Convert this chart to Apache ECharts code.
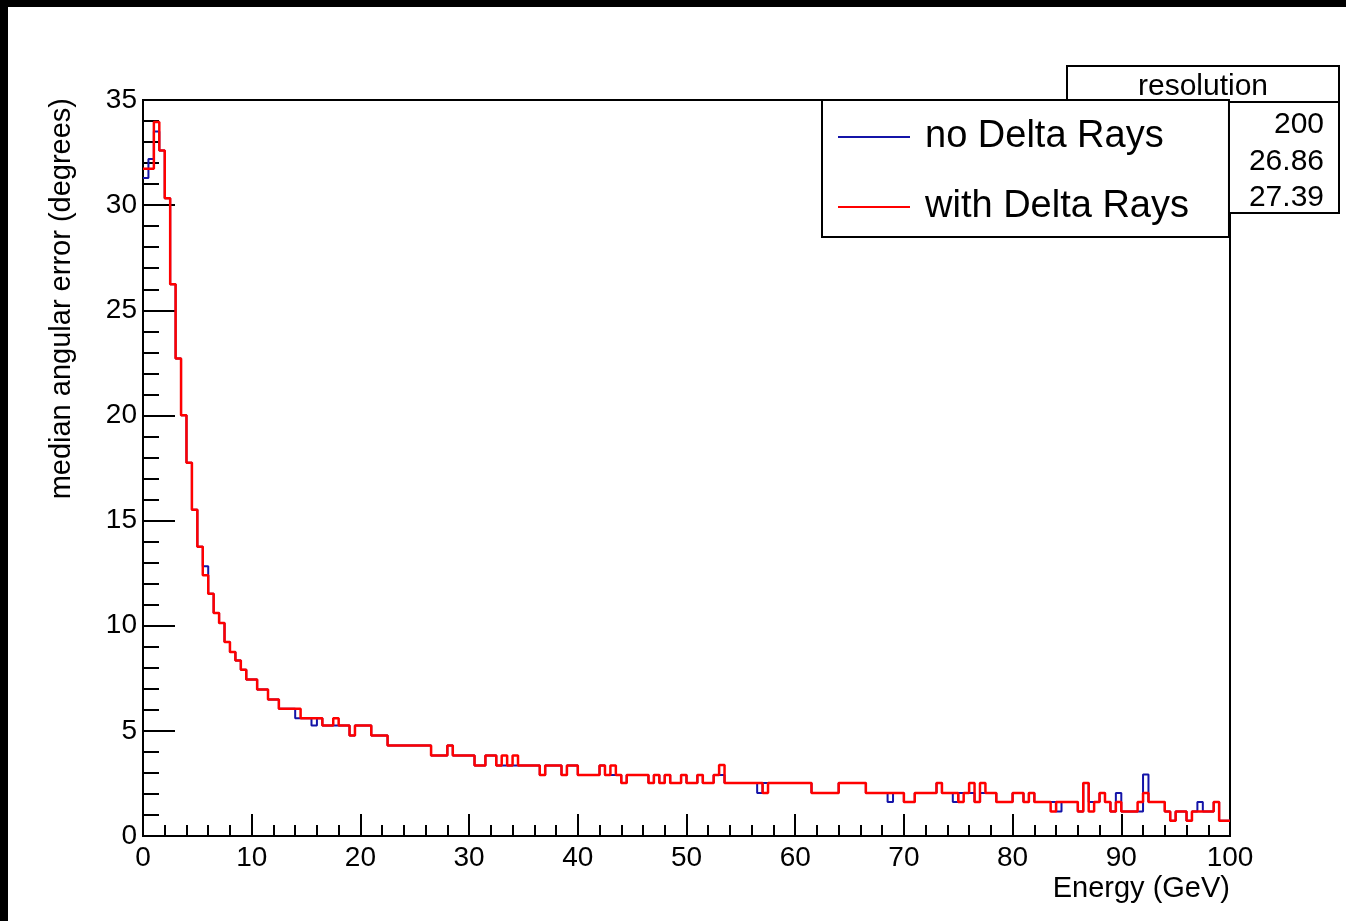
<!DOCTYPE html>
<html>
<head>
<meta charset="utf-8">
<script src="https://cdn.jsdelivr.net/npm/echarts@6/dist/echarts.min.js"></script>
<style>
  html, body { margin: 0; padding: 0; background: #fff; }
  #chart { width: 1346px; height: 921px; }
</style>
</head>
<body>
<div id="chart"></div>
<script>
// Histogram: 200 bins from 0 to 100 GeV
const xMin = 0, xMax = 100, nBins = 200;

// median angular error per bin, "no Delta Rays"
const noDeltaRays = [
  31.29, 32.19, 33.50, 32.60, 30.33, 26.24, 22.71, 20.01, 17.75, 15.52,
  13.75, 12.83, 11.52, 10.60, 10.13, 9.22, 8.75, 8.35, 7.90, 7.44,
  7.44, 6.97, 6.97, 6.49, 6.49, 6.05, 6.05, 6.05, 5.60, 5.60,
  5.60, 5.25, 5.60, 5.25, 5.25, 5.25, 5.25, 5.25, 4.78, 5.25,
  5.25, 5.25, 4.78, 4.78, 4.78, 4.30, 4.30, 4.30, 4.30, 4.30,
  4.30, 4.30, 4.30, 3.83, 3.83, 3.83, 4.30, 3.83, 3.83, 3.83,
  3.83, 3.35, 3.35, 3.83, 3.83, 3.35, 3.35, 3.35, 3.35, 3.35,
  3.35, 3.35, 3.35, 2.90, 3.35, 3.35, 3.35, 2.90, 3.35, 3.35,
  2.90, 2.90, 2.90, 2.90, 3.35, 2.90, 2.90, 2.90, 2.52, 2.90,
  2.90, 2.90, 2.90, 2.52, 2.90, 2.52, 2.90, 2.52, 2.52, 2.90,
  2.52, 2.52, 2.90, 2.52, 2.52, 2.90, 2.90, 2.52, 2.52, 2.52,
  2.52, 2.52, 2.52, 2.05, 2.52, 2.52, 2.52, 2.52, 2.52, 2.52,
  2.52, 2.52, 2.52, 2.05, 2.05, 2.05, 2.05, 2.05, 2.52, 2.52,
  2.52, 2.52, 2.52, 2.05, 2.05, 2.05, 2.05, 1.62, 2.05, 2.05,
  1.62, 1.62, 2.05, 2.05, 2.05, 2.05, 2.52, 2.05, 2.05, 1.62,
  2.05, 2.05, 2.05, 1.62, 2.05, 2.05, 2.05, 1.62, 1.62, 1.62,
  2.05, 2.05, 1.62, 2.05, 1.62, 1.62, 1.62, 1.62, 1.16, 1.62,
  1.62, 1.62, 1.16, 2.52, 1.62, 1.62, 2.05, 1.62, 1.16, 2.05,
  1.16, 1.16, 1.16, 1.16, 2.92, 1.62, 1.62, 1.62, 1.16, 0.73,
  1.16, 1.16, 0.73, 1.16, 1.62, 1.16, 1.16, 1.62, 0.73, 0.73
];

// median angular error per bin, "with Delta Rays"
const withDeltaRays = [
  31.73, 31.73, 33.95, 32.60, 30.33, 26.24, 22.71, 20.01, 17.75, 15.52,
  13.75, 12.40, 11.52, 10.60, 10.13, 9.22, 8.75, 8.35, 7.90, 7.44,
  7.44, 6.97, 6.97, 6.49, 6.49, 6.05, 6.05, 6.05, 6.05, 5.60,
  5.60, 5.60, 5.60, 5.25, 5.25, 5.60, 5.25, 5.25, 4.78, 5.25,
  5.25, 5.25, 4.78, 4.78, 4.78, 4.30, 4.30, 4.30, 4.30, 4.30,
  4.30, 4.30, 4.30, 3.83, 3.83, 3.83, 4.30, 3.83, 3.83, 3.83,
  3.83, 3.35, 3.35, 3.83, 3.83, 3.35, 3.83, 3.35, 3.83, 3.35,
  3.35, 3.35, 3.35, 2.90, 3.35, 3.35, 3.35, 2.90, 3.35, 3.35,
  2.90, 2.90, 2.90, 2.90, 3.35, 2.90, 3.35, 2.90, 2.52, 2.90,
  2.90, 2.90, 2.90, 2.52, 2.90, 2.52, 2.90, 2.52, 2.52, 2.90,
  2.52, 2.52, 2.90, 2.52, 2.52, 2.90, 3.38, 2.52, 2.52, 2.52,
  2.52, 2.52, 2.52, 2.52, 2.05, 2.52, 2.52, 2.52, 2.52, 2.52,
  2.52, 2.52, 2.52, 2.05, 2.05, 2.05, 2.05, 2.05, 2.52, 2.52,
  2.52, 2.52, 2.52, 2.05, 2.05, 2.05, 2.05, 2.05, 2.05, 2.05,
  1.62, 1.62, 2.05, 2.05, 2.05, 2.05, 2.52, 2.05, 2.05, 2.05,
  1.62, 2.05, 2.52, 1.62, 2.52, 2.05, 2.05, 1.62, 1.62, 1.62,
  2.05, 2.05, 1.62, 2.05, 1.62, 1.62, 1.62, 1.16, 1.62, 1.62,
  1.62, 1.62, 1.16, 2.52, 1.16, 1.62, 2.05, 1.62, 1.16, 1.62,
  1.16, 1.16, 1.16, 1.62, 2.05, 1.62, 1.62, 1.62, 1.16, 0.73,
  1.16, 1.16, 0.73, 1.16, 1.16, 1.16, 1.16, 1.62, 0.73, 0.73
];

const seriesNames = ['no Delta Rays', 'with Delta Rays'];
const statTitle = 'resolution';
const statValues = ['200', '26.86', '27.39'];
const xTitle = 'Energy (GeV)';
const yTitle = 'median angular error (degrees)';

const FONT = '"Liberation Sans", Arial, Helvetica, sans-serif';
const BLUE = '#1414a8';
const RED = '#ff0000';

function toSteps(vals) {
  const w = (xMax - xMin) / nBins;
  const pts = vals.map((v, i) => [xMin + i * w, v]);
  pts.push([xMax, vals[vals.length - 1]]);
  return pts;
}

const chart = echarts.init(document.getElementById('chart'), null, { renderer: 'canvas' });

const option = {
  animation: false,
  backgroundColor: '#fff',
  grid: {
    left: 143, top: 100, width: 1087, height: 736,
    show: true, borderColor: '#000', borderWidth: 2, backgroundColor: '#fff'
  },
  xAxis: {
    type: 'value', min: 0, max: 100, interval: 10,
    name: xTitle, nameLocation: 'end', nameGap: 0,
    nameTextStyle: { fontFamily: FONT, fontSize: 29, color: '#000', align: 'right', verticalAlign: 'top', padding: [38, 0, 0, 0] },
    axisLine: { show: true, onZero: false, lineStyle: { color: '#000', width: 2 } },
    axisTick: { show: true, inside: true, length: 22, lineStyle: { color: '#000', width: 2 } },
    minorTick: { show: true, splitNumber: 5, length: 11, lineStyle: { color: '#000', width: 2 } },
    splitLine: { show: false },
    axisLabel: { fontFamily: FONT, fontSize: 28, color: '#000', margin: 8 }
  },
  yAxis: {
    type: 'value', min: 0, max: 35, interval: 5,
    axisLine: { show: true, onZero: false, lineStyle: { color: '#000', width: 2 } },
    axisTick: { show: true, inside: true, length: 32, lineStyle: { color: '#000', width: 2 } },
    minorTick: { show: true, splitNumber: 5, length: 16, lineStyle: { color: '#000', width: 2 } },
    splitLine: { show: false },
    axisLabel: { fontFamily: FONT, fontSize: 28, color: '#000', margin: 6 }
  },
  legend: {
    data: [
      { name: seriesNames[0], icon: 'rect', itemStyle: { color: BLUE } },
      { name: seriesNames[1], icon: 'rect', itemStyle: { color: RED } }
    ],
    orient: 'vertical',
    left: 822, top: 100,
    padding: [18, 40, 11, 16],
    itemWidth: 72, itemHeight: 2, itemGap: 32,
    backgroundColor: '#fff', borderColor: '#000', borderWidth: 2,
    selectedMode: false,
    z: 10,
    textStyle: { fontFamily: FONT, fontSize: 38, color: '#000', lineHeight: 38, padding: [0, 0, 0, 10] }
  },
  graphic: [
    { type: 'rect', shape: { x: 0, y: 0, width: 1346, height: 7 }, style: { fill: '#000' }, z: 20 },
    { type: 'rect', shape: { x: 0, y: 0, width: 8, height: 921 }, style: { fill: '#000' }, z: 20 },
    { type: 'rect', shape: { x: 1067, y: 66, width: 272, height: 147 }, style: { fill: '#fff', stroke: '#000', lineWidth: 2 }, z: 5 },
    { type: 'line', shape: { x1: 1067, y1: 102, x2: 1339, y2: 102 }, style: { stroke: '#000', lineWidth: 2 }, z: 5 },
    { type: 'text', x: 1203, y: 87, style: { text: statTitle, font: '30px ' + FONT, fill: '#000', align: 'center', verticalAlign: 'middle' }, z: 6 },
    { type: 'text', x: 1324, y: 125, style: { text: statValues[0], font: '30px ' + FONT, fill: '#000', align: 'right', verticalAlign: 'middle' }, z: 6 },
    { type: 'text', x: 1324, y: 162, style: { text: statValues[1], font: '30px ' + FONT, fill: '#000', align: 'right', verticalAlign: 'middle' }, z: 6 },
    { type: 'text', x: 1324, y: 198, style: { text: statValues[2], font: '30px ' + FONT, fill: '#000', align: 'right', verticalAlign: 'middle' }, z: 6 },
    { type: 'text', x: 62, y: 98, rotation: Math.PI / 2, style: { text: yTitle, font: '29px ' + FONT, fill: '#000', align: 'right', verticalAlign: 'middle' }, z: 6 }
  ],
  series: [
    {
      name: seriesNames[0], type: 'line', step: 'end', symbol: 'none',
      data: toSteps(noDeltaRays),
      lineStyle: { color: BLUE, width: 2 }, itemStyle: { color: BLUE }, z: 2
    },
    {
      name: seriesNames[1], type: 'line', step: 'end', symbol: 'none',
      data: toSteps(withDeltaRays),
      lineStyle: { color: RED, width: 2.5 }, itemStyle: { color: RED }, z: 3
    }
  ]
};
chart.setOption(option);
</script>
</body>
</html>
